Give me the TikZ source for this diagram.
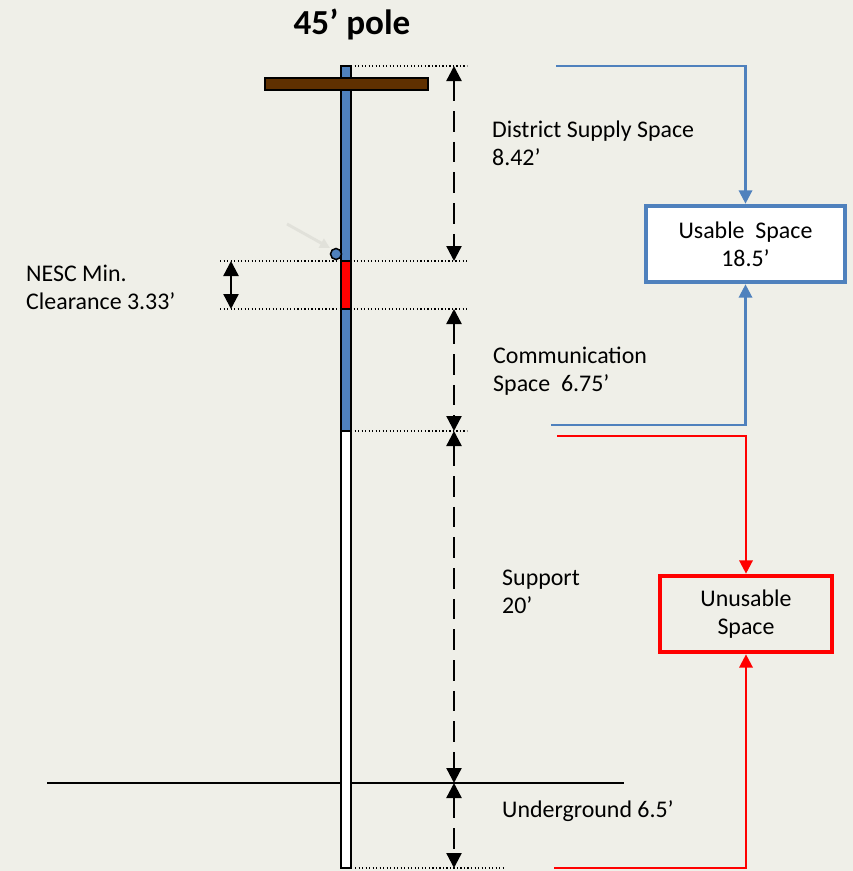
\documentclass[tikz,border=0pt]{standalone}
\usepackage{fontspec}
\setmainfont{Carlito}
\usetikzlibrary{arrows.meta}
\definecolor{bgcol}{HTML}{EFEFE8}
\definecolor{poleblue}{HTML}{4F81BD}
\definecolor{armbrown}{HTML}{5F3000}
\tikzset{
  lbl/.style={anchor=west,align=left,font=\fontsize{20.4}{24}\selectfont,inner sep=0pt},
  dimarrow/.style={line width=2pt,dash pattern=on 0.62cm off 0.3cm,{Triangle[length=0.45cm,width=0.45cm]}-{Triangle[length=0.45cm,width=0.45cm]}},
  guide/.style={line width=1pt,dotted},
  usebox/.style={draw=poleblue,line width=3.4pt,fill=white,minimum width=5.95cm,minimum height=2.3cm,align=center,font=\fontsize{20.4}{24}\selectfont},
  nousebox/.style={draw=red,line width=3.4pt,minimum width=5.15cm,minimum height=2.3cm,align=center,font=\fontsize{20.4}{24}\selectfont},
  blueflow/.style={draw=poleblue,line width=2pt,-{Triangle[length=0.4cm,width=0.4cm]}},
  redflow/.style={draw=red,line width=2pt,-{Triangle[length=0.4cm,width=0.4cm]}}
}
\begin{document}
\begin{tikzpicture}[x=0.03cm,y=-0.03cm]
  \fill[bgcol] (0,0) rectangle (853,871);
  \useasboundingbox (0,0) rectangle (853,871);
  % title
  \node (title) at (352,24) {\fontsize{30}{34}\selectfont\bfseries 45’ pole};
  % ground
  \draw[line width=1.2pt] (47,783)--(624,783);
  % pole
  \draw[line width=1.5pt,fill=white] (341,431) rectangle (351,868);
  \draw[line width=1.5pt,fill=poleblue] (341,66) rectangle (351,431);
  \draw[line width=1.5pt,fill=red] (341,261) rectangle (351,309);
  \draw[line width=1.5pt,fill=armbrown] (265,78) rectangle (428,90);
  \draw[line width=1.3pt,fill=poleblue] (336,254) circle [radius=5.5];
  \draw[line width=2.5pt,color=black!6!bgcol,-{Triangle[length=0.3cm,width=0.3cm]}] (287,224)--(330,248);
  % guide lines
  \draw[guide] (351,66)--(467,66);
  \draw[guide] (220,261)--(467,261);
  \draw[guide] (220,309)--(467,309);
  \draw[guide] (351,431)--(467,431);
  \draw[guide] (355,868)--(505,868);
  \coordinate (top) at (454,66);
  \coordinate (supp) at (454,261);
  \coordinate (comm) at (454,309);
  \coordinate (base) at (454,431);
  \coordinate (grnd) at (454,783);
  \coordinate (butt) at (454,868);
  \coordinate (nesctop) at (231,261);
  \coordinate (nescbot) at (231,309);
  \draw[dimarrow] (top)--(supp);
  \draw[dimarrow] (comm)--(base);
  \draw[dimarrow] (base)--(grnd);
  \draw[dimarrow] (grnd)--(butt);
  \draw[line width=2pt,{Triangle[length=0.45cm,width=0.45cm]}-{Triangle[length=0.45cm,width=0.45cm]}] (nesctop)--(nescbot);
  % labels
  \node[lbl] (district) at (492,143) {District Supply Space\\8.42’};
  \node[lbl] (communication) at (493,371) {Communication\\Space\ \ 6.75’};
  \node[lbl] (support) at (502,592) {Support\\20’};
  \node[lbl] (underground) at (502,811) {Underground 6.5’};
  \node[lbl] (nesc) at (26,287) {NESC Min.\\Clearance 3.33’};
  % boxes
  \node[usebox] (usable) at (745.5,244) {Usable\ \ Space\\18.5’};
  \node[nousebox] (unusable) at (746,614) {Unusable\\Space};
  \coordinate (u1) at (556,66);
  \coordinate (u2) at (551,425);
  \coordinate (r1) at (557,436);
  \coordinate (r2) at (554,868);
  \draw[blueflow] (u1)-|(usable);
  \draw[blueflow] (u2)-|(usable);
  \draw[redflow] (r1)-|(unusable);
  \draw[redflow] (r2)-|(unusable);
\end{tikzpicture}
\end{document}
